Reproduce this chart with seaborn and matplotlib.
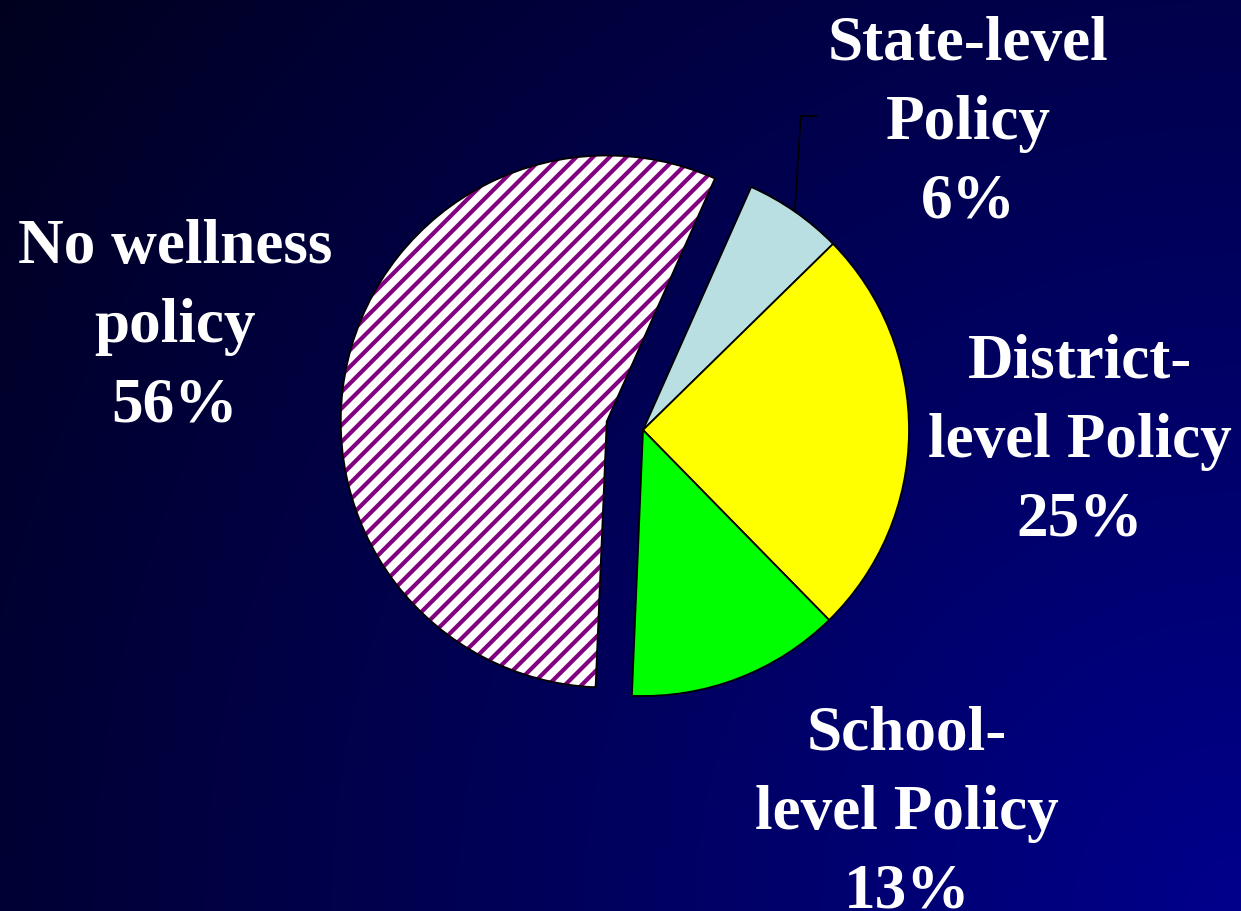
import numpy as np
import matplotlib
matplotlib.use("Agg")
import matplotlib.pyplot as plt
from matplotlib.patches import Wedge
import seaborn as sns

# ---- data ----
categories = ["State-level\nPolicy", "District-\nlevel Policy", "School-\nlevel Policy", "No wellness\npolicy"]
shares = [6, 25, 13, 56]
slice_colors = ["#BADFE2", "#FFFF00", "#00FF00", "#FFFFFF"]
explode = [0, 0, 0, 0.14]

# label layout (pixel coords from top-left: center x, first baseline y)
label_x = [968, 1080, 907, 175]
label_y0 = [60, 378, 750, 263]
line_step = 79

sns.set_theme(style="white")
plt.rcParams["font.family"] = ["Liberation Serif", "DejaVu Serif"]
plt.rcParams["hatch.linewidth"] = 3.0

W, H = 1241, 911
CX, CY, R = 643, 430, 266          # pie centre / radius in pixels


def to_data(x, y):
    return (x - CX) / R, (CY - y) / R


fig = plt.figure(figsize=(W / 100, H / 100), dpi=100)
ax = fig.add_axes([0, 0, 1, 1])
x0, y1 = to_data(0, 0)
x1, y0 = to_data(W, H)

# background gradient (brightest at bottom-right corner)
xx, yy = np.meshgrid(np.arange(W) + 0.5, np.arange(H) + 0.5)
d = np.sqrt((W - xx) ** 2 + (H - yy) ** 2) / np.sqrt(W ** 2 + H ** 2)
img = np.zeros((H, W, 3))
img[..., 2] = (140 - 110 * d) / 255.0
ax.imshow(img, extent=[x0, x1, y0, y1], origin="upper", zorder=0, interpolation="bilinear")

wedges, _ = ax.pie(shares, colors=slice_colors, explode=explode, startangle=66,
                   counterclock=False, center=(0, 0), radius=1, frame=True,
                   wedgeprops=dict(edgecolor="black", linewidth=1.3))
for w in wedges:
    w.set_zorder(2)

# hatched "No wellness" slice: purple diagonal hatch + black outline
hw = wedges[3]
hw.set_facecolor("white")
hw.set_edgecolor("#800080")
hw.set_linewidth(0)
hw.set_hatch("//")
outline = Wedge(hw.center, hw.r, hw.theta1, hw.theta2, facecolor="none",
                edgecolor="black", linewidth=1.3, zorder=3)
ax.add_patch(outline)

# leader line for State-level slice
sw = wedges[0]
mid = np.deg2rad((sw.theta1 + sw.theta2) / 2)
px, py = sw.center[0] + sw.r * np.cos(mid), sw.center[1] + sw.r * np.sin(mid)
_, ly = to_data(0, 116)
ax.plot([px, px + 6 / R, px + 22 / R], [py, ly, ly], color="black", lw=1.2, zorder=3)

# labels
for lab, share, lx, ly0 in zip(categories, shares, label_x, label_y0):
    lines = lab.split("\n") + [f"{share}%"]
    for i, t in enumerate(lines):
        tx, ty = to_data(lx, ly0 + i * line_step)
        ax.text(tx, ty, t, ha="center", va="baseline",
                color="white", fontsize=45.5, fontweight="bold", zorder=4)

ax.set_xlim(x0, x1)
ax.set_ylim(y0, y1)
ax.set_aspect("auto")
ax.axis("off")

fig.savefig("out.png", dpi=100)
